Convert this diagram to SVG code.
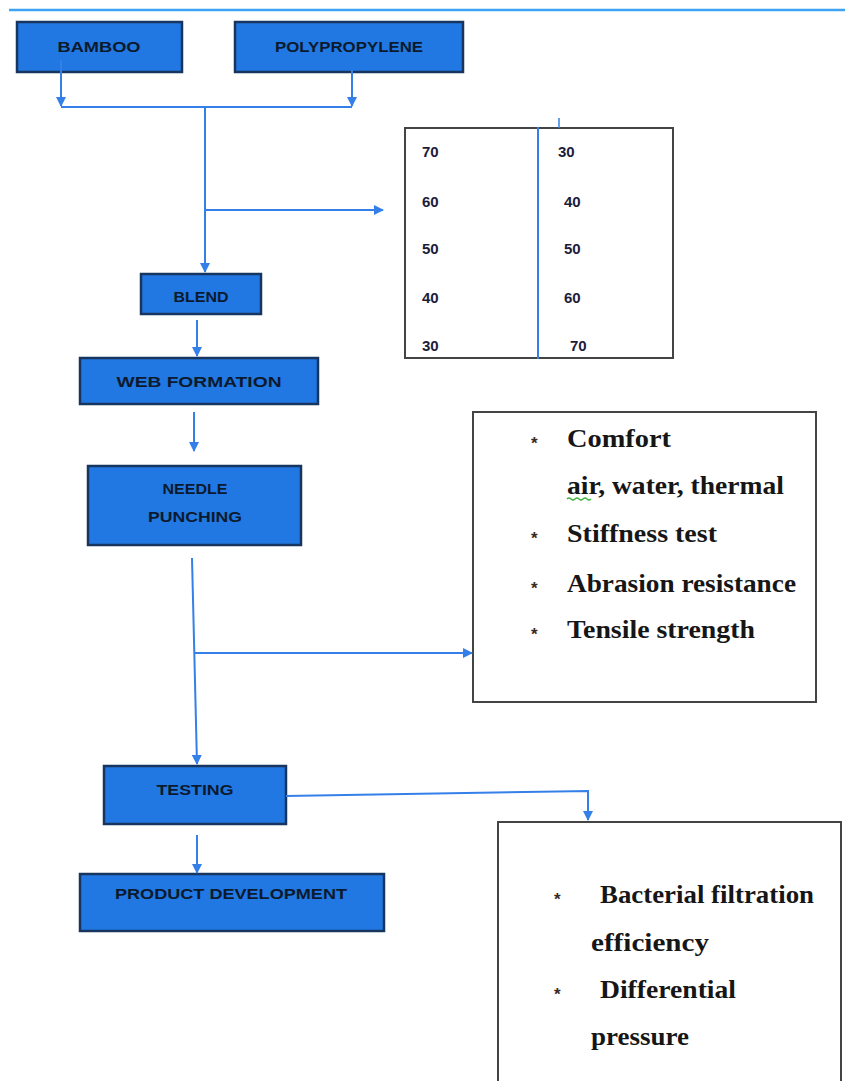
<svg xmlns="http://www.w3.org/2000/svg" width="845" height="1081" viewBox="0 0 845 1081">
<defs>
<style>
.node rect.b{fill:#2178e2;stroke:#17355e;stroke-width:2.5}
.lbl{font-family:"Liberation Sans",Arial,sans-serif;font-size:14px;font-weight:bold;fill:#0c1a2e;text-anchor:middle}
.num{font-family:"Liberation Sans",Arial,sans-serif;font-size:15px;font-weight:bold;fill:#1c1c3a}
.box{fill:#ffffff;stroke:#444;stroke-width:2}
.ser{font-family:"Liberation Serif","Times New Roman",serif;font-size:25px;font-weight:bold;fill:#161616}
.bul{font-family:"Liberation Sans",Arial,sans-serif;font-size:17px;font-weight:bold;fill:#3a2a24}
.con{fill:none;stroke:#3580e8;stroke-width:2}
</style>
<marker id="ah" viewBox="0 0 10 10" refX="9" refY="5" markerWidth="5" markerHeight="5" orient="auto" markerUnits="strokeWidth">
<path d="M0,0 L10,5 L0,10 z" fill="#3580e8"/>
</marker>
</defs>
<rect x="0" y="0" width="845" height="1081" fill="#ffffff"/>
<line x1="9" y1="10" x2="845" y2="10" stroke="#3ea3f4" stroke-width="2.5"/>

<g id="bamboo" class="node"><rect class="b" x="17" y="22" width="165" height="50"/><text class="lbl" x="99" y="52" textLength="83" lengthAdjust="spacingAndGlyphs">BAMBOO</text></g>
<g id="polypropylene" class="node"><rect class="b" x="235" y="22" width="228" height="50"/><text class="lbl" x="349" y="52" textLength="148" lengthAdjust="spacingAndGlyphs">POLYPROPYLENE</text></g>
<g id="blend" class="node"><rect class="b" x="141" y="274" width="120" height="40"/><text class="lbl" x="201" y="302" textLength="55" lengthAdjust="spacingAndGlyphs">BLEND</text></g>
<g id="web" class="node"><rect class="b" x="80" y="358" width="238" height="46"/><text class="lbl" x="199" y="387" textLength="165" lengthAdjust="spacingAndGlyphs">WEB FORMATION</text></g>
<g id="needle" class="node"><rect class="b" x="88" y="466" width="213" height="79"/><text class="lbl" x="195" y="494" textLength="65" lengthAdjust="spacingAndGlyphs">NEEDLE</text><text class="lbl" x="195" y="522" textLength="94" lengthAdjust="spacingAndGlyphs">PUNCHING</text></g>
<g id="testing" class="node"><rect class="b" x="104" y="766" width="182" height="58"/><text class="lbl" x="195" y="795" textLength="77" lengthAdjust="spacingAndGlyphs">TESTING</text></g>
<g id="product" class="node"><rect class="b" x="80" y="874" width="304" height="57"/><text class="lbl" x="231" y="899" textLength="232" lengthAdjust="spacingAndGlyphs">PRODUCT  DEVELOPMENT</text></g>

<g id="ratios">
<rect class="box" x="405" y="128" width="268" height="230"/>
<line x1="538" y1="127" x2="538" y2="359" stroke="#3580e8" stroke-width="2"/>
<line x1="559" y1="118" x2="559" y2="128" stroke="#3580e8" stroke-width="1.5"/>
<text class="num" x="422" y="157">70</text><text class="num" x="558" y="157">30</text>
<text class="num" x="422" y="207">60</text><text class="num" x="564" y="207">40</text>
<text class="num" x="422" y="254">50</text><text class="num" x="564" y="254">50</text>
<text class="num" x="422" y="303">40</text><text class="num" x="564" y="303">60</text>
<text class="num" x="422" y="351">30</text><text class="num" x="570" y="351">70</text>
</g>

<g id="tests">
<rect class="box" x="473" y="412" width="343" height="290"/>
<text class="bul" x="531" y="449">*</text>
<text class="ser" x="567" y="447" textLength="104" lengthAdjust="spacingAndGlyphs">Comfort</text>
<text class="ser" x="567" y="494" textLength="217" lengthAdjust="spacingAndGlyphs">air, water, thermal</text>
<path d="M567,499 q2,-2 4,0 t4,0 t4,0 t4,0 t4,0 t4,0" fill="none" stroke="#3cb43c" stroke-width="1.2"/>
<text class="bul" x="531" y="544">*</text>
<text class="ser" x="567" y="542" textLength="150" lengthAdjust="spacingAndGlyphs">Stiffness test</text>
<text class="bul" x="531" y="594">*</text>
<text class="ser" x="567" y="592" textLength="229" lengthAdjust="spacingAndGlyphs">Abrasion resistance</text>
<text class="bul" x="531" y="640">*</text>
<text class="ser" x="567" y="638" textLength="188" lengthAdjust="spacingAndGlyphs">Tensile  strength</text>
</g>

<g id="mask-tests">
<rect class="box" x="498" y="822" width="343" height="270"/>
<text class="bul" x="554" y="905">*</text>
<text class="ser" x="600" y="903" textLength="214" lengthAdjust="spacingAndGlyphs">Bacterial filtration</text>
<text class="ser" x="591" y="951" textLength="118" lengthAdjust="spacingAndGlyphs">efficiency</text>
<text class="bul" x="554" y="1000">*</text>
<text class="ser" x="600" y="998" textLength="136" lengthAdjust="spacingAndGlyphs">Differential</text>
<text class="ser" x="591" y="1045" textLength="98" lengthAdjust="spacingAndGlyphs">pressure</text>
</g>

<g id="connectors">
<path class="con" d="M61,60 V106" marker-end="url(#ah)"/>
<path class="con" d="M352,70 V106" marker-end="url(#ah)"/>
<path class="con" d="M61,107 H352"/>
<path class="con" d="M205,107 V272" marker-end="url(#ah)"/>
<path class="con" d="M205,210 H383" marker-end="url(#ah)"/>
<path class="con" d="M197,320 V356" marker-end="url(#ah)"/>
<path class="con" d="M194,412 V451" marker-end="url(#ah)"/>
<path class="con" d="M192,558 L197,764" marker-end="url(#ah)"/>
<path class="con" d="M195,653 H472" marker-end="url(#ah)"/>
<path class="con" d="M286,796 L588,791 V820" marker-end="url(#ah)"/>
<path class="con" d="M197,835 V873" marker-end="url(#ah)"/>
</g>
</svg>
